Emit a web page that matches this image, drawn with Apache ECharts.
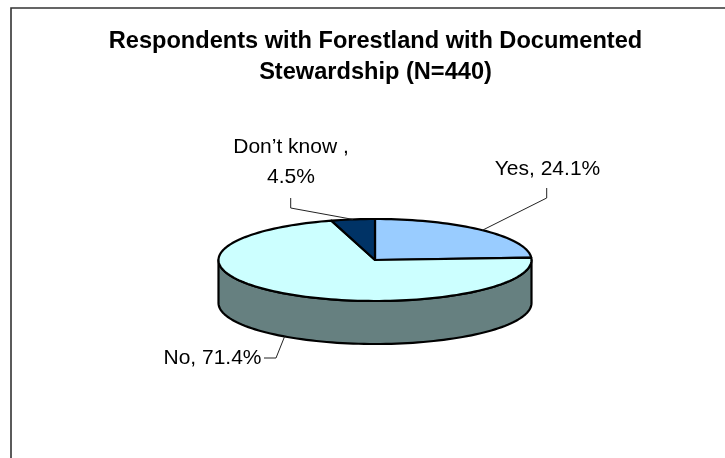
<!DOCTYPE html>
<html>
<head>
<meta charset="utf-8">
<style>
  html, body { margin: 0; padding: 0; background: #fff; }
  #chart { width: 725px; height: 458px; }
</style>
<script src="https://cdn.jsdelivr.net/npm/echarts@6/dist/echarts.min.js"></script>
</head>
<body>
<div id="chart"></div>
<script>
// Survey answers, in clockwise order from twelve o'clock
const categories = ['Yes', 'No', 'Don\u2019t know'];
const shares = [24.1, 71.4, 4.5];
const shareLabels = ['Yes, 24.1%', 'No, 71.4%', 'Don\u2019t know ,\n4.5%'];
const faceColors = ['#99CCFF', '#CCFFFF', '#003366'];
const wallColors = ['#5C7A99', '#668080', '#001F3D'];

// Tilted disc geometry
const disc = { cx: 375, cy: 260, rx: 156.5, ry: 41, depth: 43 };
const ARC_STEP = Math.PI / 90;

// Label placement relative to the slice's leader line
const leaders = [
  { knee: [546.7, 198], end: [546.7, 188], text: [547.5, 169], onWall: false },
  { knee: [276, 358], end: [264, 358], text: [212.5, 358], onWall: true },
  { knee: [290.7, 208], end: [290.7, 198], text: [291, 162], onWall: false }
];

const total = shares.reduce((a, b) => a + b, 0);

function rimPoint(t, drop) {
  return [disc.cx + disc.rx * Math.sin(t), disc.cy - disc.ry * Math.cos(t) + (drop || 0)];
}

function arc(t0, t1, drop) {
  const pts = [];
  const n = Math.max(1, Math.ceil(Math.abs(t1 - t0) / ARC_STEP));
  for (let i = 0; i <= n; i++) pts.push(rimPoint(t0 + (t1 - t0) * i / n, drop));
  return pts;
}

function sliceAngles(index) {
  let before = 0;
  for (let i = 0; i < index; i++) before += shares[i];
  return [before / total * 2 * Math.PI, (before + shares[index]) / total * 2 * Math.PI];
}

function renderSlice(params, api) {
  const i = api.value(0);
  const [t0, t1] = sliceAngles(i);
  const children = [];

  // The wall only shows along the front half of the rim
  const wall0 = Math.max(t0, Math.PI / 2);
  const wall1 = Math.min(t1, Math.PI * 1.5);
  if (wall1 > wall0) {
    children.push({
      type: 'polygon',
      shape: { points: arc(wall0, wall1, 0).concat(arc(wall1, wall0, disc.depth)) },
      style: { fill: wallColors[i], stroke: '#000', lineWidth: 2.2, lineJoin: 'round' }
    });
  }

  children.push({
    type: 'polygon',
    shape: { points: [[disc.cx, disc.cy]].concat(arc(t0, t1, 0)) },
    style: { fill: faceColors[i], stroke: '#000', lineWidth: 2.2, lineJoin: 'round' }
  });

  // Leader line runs from the rim at the slice's mid angle out to its label
  const lead = leaders[i];
  const mid = (t0 + t1) / 2;
  children.push({
    type: 'polyline',
    shape: { points: [rimPoint(mid, lead.onWall ? disc.depth : 0), lead.knee, lead.end] },
    style: { fill: null, stroke: '#222', lineWidth: 1 }
  });

  children.push({
    type: 'text',
    x: lead.text[0],
    y: lead.text[1],
    style: {
      text: shareLabels[i],
      fill: '#000',
      font: '21px "Liberation Sans", Arial, sans-serif',
      lineHeight: 30,
      align: 'center',
      verticalAlign: 'middle'
    }
  });

  return { type: 'group', children };
}

const chart = echarts.init(document.getElementById('chart'), null, { renderer: 'canvas' });

chart.setOption({
  animation: false,
  backgroundColor: '#fff',
  title: {
    text: 'Respondents with Forestland with Documented\nStewardship (N=440)',
    left: 370.5,
    top: 20.5,
    textAlign: 'center',
    textStyle: {
      fontFamily: '"Liberation Sans", Arial, sans-serif',
      fontWeight: 'bold',
      fontSize: 23.6,
      lineHeight: 31,
      color: '#000'
    }
  },
  graphic: [{
    type: 'polyline',
    silent: true,
    shape: { points: [[725, 8], [11, 8], [11, 458]] },
    style: { fill: null, stroke: '#333', lineWidth: 1.6 }
  }],
  series: [{
    type: 'custom',
    coordinateSystem: 'none',
    renderItem: renderSlice,
    data: categories.map((name, i) => ({ name, value: [i, shares[i]] }))
  }]
});
</script>
</body>
</html>
